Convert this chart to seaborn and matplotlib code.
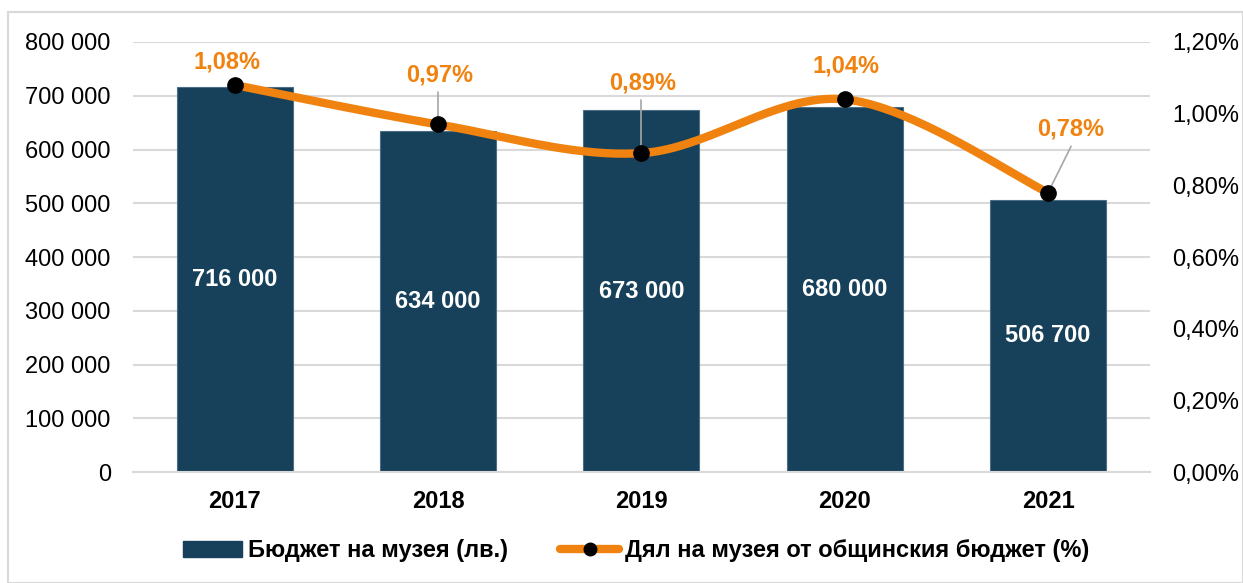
import numpy as np
import pandas as pd
import matplotlib
matplotlib.use("Agg")
import matplotlib.pyplot as plt
import seaborn as sns
from matplotlib.lines import Line2D
from matplotlib.patches import Patch, Rectangle

years = ["2017", "2018", "2019", "2020", "2021"]
budget = [716000, 634000, 673000, 680000, 506700]
share = [1.08, 0.97, 0.89, 1.04, 0.78]
budget_labels = ["716 000", "634 000", "673 000", "680 000", "506 700"]
share_labels = ["1,08%", "0,97%", "0,89%", "1,04%", "0,78%"]

BAR = "#17415A"
ORANGE = "#F0820F"

sns.set_theme(style="white")
plt.rcParams["font.family"] = ["Liberation Sans", "DejaVu Sans"]
plt.rcParams["text.color"] = "black"
plt.rcParams["xtick.color"] = "black"
plt.rcParams["ytick.color"] = "black"

fig = plt.figure(figsize=(12.43, 5.83), dpi=100)
ax = fig.add_axes([0.107, 0.190, 0.818, 0.738])
fig.patches.append(Rectangle((8 / 1243, 0), 1 - 8 / 1243, 1 - 12 / 583, transform=fig.transFigure,
                             fill=False, edgecolor="#D9D9D9", linewidth=1.5))

df = pd.DataFrame({"year": years, "budget": budget})
sns.barplot(data=df, x="year", y="budget", color=BAR, width=0.57, saturation=1, ax=ax,
            edgecolor="#4C6F86", linewidth=0.8, zorder=2)
ax.set_xlim(-0.5, 4.5)
ax.set_ylim(0, 800000)
ax.set_yticks(np.arange(0, 800001, 100000))
ax.set_yticklabels([f"{v:,}".replace(",", " ") for v in range(0, 800001, 100000)], fontsize=17)
ax.yaxis.grid(True, color="#D9D9D9", linewidth=1.5, zorder=0)
ax.set_axisbelow(True)
ax.set_xlabel("")
ax.set_ylabel("")
for lab in ax.get_xticklabels():
    lab.set_fontweight("bold")
    lab.set_fontsize(17)
ax.tick_params(axis="x", pad=13, length=0)
ax.tick_params(axis="y", pad=16, length=0)
for s in ax.spines.values():
    s.set_visible(False)
ax.spines["bottom"].set_visible(True)
ax.spines["bottom"].set_color("#D9D9D9")
ax.spines["bottom"].set_linewidth(1.5)

for i, v in enumerate(budget):
    ax.text(i, v / 2, budget_labels[i], ha="center", va="center", color="white",
            fontsize=17, fontweight="bold", zorder=5)

ax2 = ax.twinx()
ax2.set_xlim(-0.5, 4.5)
ax2.set_ylim(0, 0.012)
ax2.set_yticks(np.arange(0, 0.0121, 0.002))
ax2.set_yticklabels([f"{t:.2f}%".replace(".", ",") for t in np.arange(0, 1.21, 0.2)], fontsize=17)
ax2.tick_params(axis="y", pad=16, length=0)
for s in ax2.spines.values():
    s.set_visible(False)

# smoothed line (Catmull-Rom style Bezier, as in Excel)
xs = np.arange(len(share), dtype=float)
ys = np.array(share) / 100
P = np.column_stack([xs, ys])
Pe = np.vstack([P[0], P, P[-1]])
curve = []
t = np.linspace(0, 1, 40)[:, None]
for i in range(len(P) - 1):
    p0, p1, p2, p3 = Pe[i], Pe[i + 1], Pe[i + 2], Pe[i + 3]
    c1 = p1 + (p2 - p0) / 6
    c2 = p2 - (p3 - p1) / 6
    seg = (1 - t) ** 3 * p1 + 3 * (1 - t) ** 2 * t * c1 + 3 * (1 - t) * t ** 2 * c2 + t ** 3 * p2
    curve.append(seg)
curve = np.vstack(curve)
ax2.plot(curve[:, 0], curve[:, 1], color=ORANGE, linewidth=6, solid_capstyle="round", zorder=3)
ax2.plot(xs, ys, linestyle="none", marker="o", markersize=11, color="black", zorder=4)

# label offsets (x, y in data units) and whether a leader line is drawn
offsets = [(-0.04, 0.00064, False), (0.01, 0.00138, True), (0.005, 0.00196, True),
           (0.005, 0.00093, False), (0.113, 0.00176, True)]
for i, (dx, dy, lead) in enumerate(offsets):
    tx, ty = xs[i] + dx, ys[i] + dy
    ax2.text(tx, ty, share_labels[i], ha="center", va="center", color=ORANGE,
             fontsize=17, fontweight="bold", zorder=6)
    if lead:
        lx = tx if i == 4 else xs[i]
        ax2.plot([lx, xs[i]], [ty - 0.00047, ys[i]], color="#A6A6A6", linewidth=1.2, zorder=3.5)

handles = [Patch(facecolor=BAR, edgecolor=BAR),
           Line2D([0], [0], color=ORANGE, linewidth=6, marker="o", markersize=9,
                  markerfacecolor="black", markeredgecolor="black")]
fig.legend(handles, ["Бюджет на музея (лв.)", "Дял на музея от общинския бюджет (%)"],
           loc="center", bbox_to_anchor=(0.512, 0.055), ncol=2, frameon=False,
           prop={"weight": "bold", "size": 17}, handlelength=2.5, handletextpad=0.25,
           columnspacing=2.2)

fig.savefig("out.png", dpi=100)
